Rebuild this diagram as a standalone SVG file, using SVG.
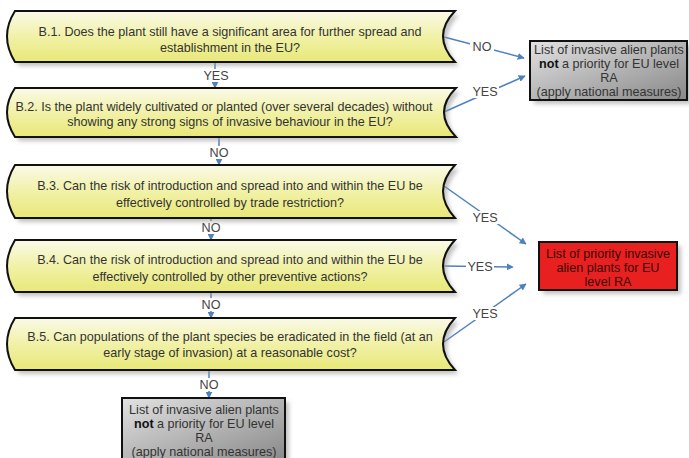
<svg xmlns="http://www.w3.org/2000/svg" width="689" height="458" viewBox="0 0 689 458">
<defs>
<linearGradient id="yel" x1="0" y1="0" x2="0" y2="1">
<stop offset="0" stop-color="#fafae8"/>
<stop offset="0.5" stop-color="#f1f1a8"/>
<stop offset="1" stop-color="#e8e878"/>
</linearGradient>
<linearGradient id="gry" x1="0" y1="0" x2="1" y2="1">
<stop offset="0" stop-color="#e2e2e2"/>
<stop offset="1" stop-color="#888888"/>
</linearGradient>
<filter id="sh" x="-10%" y="-20%" width="130%" height="160%">
<feGaussianBlur stdDeviation="2"/>
</filter>
<marker id="ah" viewBox="0 0 10 10" refX="9" refY="5" markerWidth="7" markerHeight="7" markerUnits="userSpaceOnUse" orient="auto">
<path d="M0,0 L10,5 L0,10 z" fill="#4f81bd"/>
</marker>
</defs>
<style>
.q{fill:url(#yel);stroke:#111;stroke-width:2}
.s{fill:#9a9a9a;opacity:0.6;filter:url(#sh)}
.t{font-family:"Liberation Sans",Arial,sans-serif;font-size:12.6px;fill:#333;text-anchor:middle}
.l{font-family:"Liberation Sans",Arial,sans-serif;font-size:12.6px;fill:#444;text-anchor:middle}
.c{stroke:#4f81bd;stroke-width:1.5;fill:none}
.g{fill:url(#gry);stroke:#111;stroke-width:2}
.r{fill:#e82020;stroke:#111;stroke-width:2}
.rt{font-family:"Liberation Sans",Arial,sans-serif;font-size:12.6px;fill:#3a0808;text-anchor:middle}
</style>

<g id="connectors">
<line class="c" x1="215" y1="62" x2="215" y2="88" marker-end="url(#ah)"/>
<line class="c" x1="219" y1="137" x2="219" y2="165" marker-end="url(#ah)"/>
<line class="c" x1="211" y1="218" x2="211" y2="240" marker-end="url(#ah)"/>
<line class="c" x1="211" y1="292" x2="211" y2="318" marker-end="url(#ah)"/>
<line class="c" x1="209" y1="370" x2="209" y2="398" marker-end="url(#ah)"/>
<line class="c" x1="444" y1="37" x2="524" y2="58" marker-end="url(#ah)"/>
<line class="c" x1="444" y1="112" x2="525" y2="76" marker-end="url(#ah)"/>
<line class="c" x1="444" y1="186" x2="526" y2="244" marker-end="url(#ah)"/>
<line class="c" x1="444" y1="266" x2="513" y2="267" marker-end="url(#ah)"/>
<line class="c" x1="444" y1="342" x2="526" y2="284" marker-end="url(#ah)"/>
<g>
<rect x="202" y="69" width="28" height="13" fill="#fff"/>
<text class="l" x="216" y="80">YES</text>
<rect x="208" y="146" width="22" height="13" fill="#fff"/>
<text class="l" x="219" y="157">NO</text>
<rect x="200" y="221" width="22" height="13" fill="#fff"/>
<text class="l" x="211" y="232">NO</text>
<rect x="200" y="298" width="22" height="13" fill="#fff"/>
<text class="l" x="211" y="309">NO</text>
<rect x="198" y="378" width="22" height="13" fill="#fff"/>
<text class="l" x="209" y="389">NO</text>
<rect x="470" y="40" width="24" height="13" fill="#fff"/>
<text class="l" x="482" y="51">NO</text>
<rect x="471" y="85" width="28" height="13" fill="#fff"/>
<text class="l" x="485" y="96">YES</text>
<rect x="471" y="211" width="28" height="13" fill="#fff"/>
<text class="l" x="485" y="222">YES</text>
<rect x="466" y="260" width="28" height="13" fill="#fff"/>
<text class="l" x="480" y="271">YES</text>
<rect x="471" y="307" width="28" height="13" fill="#fff"/>
<text class="l" x="485" y="318">YES</text>
</g>
</g>

<g id="B1">
<path class="s" transform="translate(4,4)" d="M15,11 L455,11 Q431,36 455,62 L15,62 Q-1,36 15,11 Z"/>
<path class="q" d="M15,11 L455,11 Q431,36 455,62 L15,62 Q-1,36 15,11 Z"/>
<text class="t" x="230" y="36">B.1. Does the plant still have a significant area for further spread and</text>
<text class="t" x="230" y="52">establishment in the EU?</text>
</g>
<g id="B2">
<path class="s" transform="translate(4,4)" d="M15,88 L456,88 Q432,112 456,137 L15,137 Q-1,112 15,88 Z"/>
<path class="q" d="M15,88 L456,88 Q432,112 456,137 L15,137 Q-1,112 15,88 Z"/>
<text class="t" x="224" y="111">B.2. Is the plant widely cultivated or planted (over several decades) without</text>
<text class="t" x="230" y="126">showing any strong signs of invasive behaviour in the EU?</text>
</g>
<g id="B3">
<path class="s" transform="translate(4,4)" d="M15,165 L455,165 Q431,191 455,218 L15,218 Q-1,191 15,165 Z"/>
<path class="q" d="M15,165 L455,165 Q431,191 455,218 L15,218 Q-1,191 15,165 Z"/>
<text class="t" x="230" y="190">B.3. Can the risk of introduction and spread into and within the EU be</text>
<text class="t" x="230" y="207">effectively controlled by trade restriction?</text>
</g>
<g id="B4">
<path class="s" transform="translate(4,4)" d="M15,240 L455,240 Q431,266 455,292 L15,292 Q-1,266 15,240 Z"/>
<path class="q" d="M15,240 L455,240 Q431,266 455,292 L15,292 Q-1,266 15,240 Z"/>
<text class="t" x="230" y="264">B.4. Can the risk of introduction and spread into and within the EU be</text>
<text class="t" x="230" y="281">effectively controlled by other preventive actions?</text>
</g>
<g id="B5">
<path class="s" transform="translate(4,4)" d="M15,318 L455,318 Q431,344 455,370 L15,370 Q-1,344 15,318 Z"/>
<path class="q" d="M15,318 L455,318 Q431,344 455,370 L15,370 Q-1,344 15,318 Z"/>
<text class="t" x="230" y="341">B.5. Can populations of the plant species be eradicated in the field (at an</text>
<text class="t" x="230" y="357">early stage of invasion) at a reasonable cost?</text>
</g>
<g id="notPriorityTop">
<rect class="s" x="534" y="45" width="158" height="59"/>
<rect class="g" x="530" y="41" width="157" height="59"/>
<text class="t" x="609" y="54">List of invasive alien plants</text>
<text class="t" x="609" y="68"><tspan font-weight="bold" fill="#111">not</tspan> a priority for EU level</text>
<text class="t" x="609" y="82">RA</text>
<text class="t" x="609" y="96">(apply national measures)</text>
</g>
<g id="priority">
<rect class="s" x="543" y="246" width="138" height="48"/>
<rect class="r" x="539" y="242" width="138" height="48"/>
<text class="rt" x="608" y="258">List of priority invasive</text>
<text class="rt" x="608" y="272">alien plants for EU</text>
<text class="rt" x="608" y="286">level RA</text>
</g>
<g id="notPriorityBottom">
<rect class="s" x="126" y="402" width="163" height="64"/>
<rect class="g" x="122" y="398" width="163" height="64"/>
<text class="t" x="204" y="414">List of invasive alien plants</text>
<text class="t" x="204" y="428"><tspan font-weight="bold" fill="#111">not</tspan> a priority for EU level</text>
<text class="t" x="204" y="442">RA</text>
<text class="t" x="204" y="456">(apply national measures)</text>
</g>
</svg>
